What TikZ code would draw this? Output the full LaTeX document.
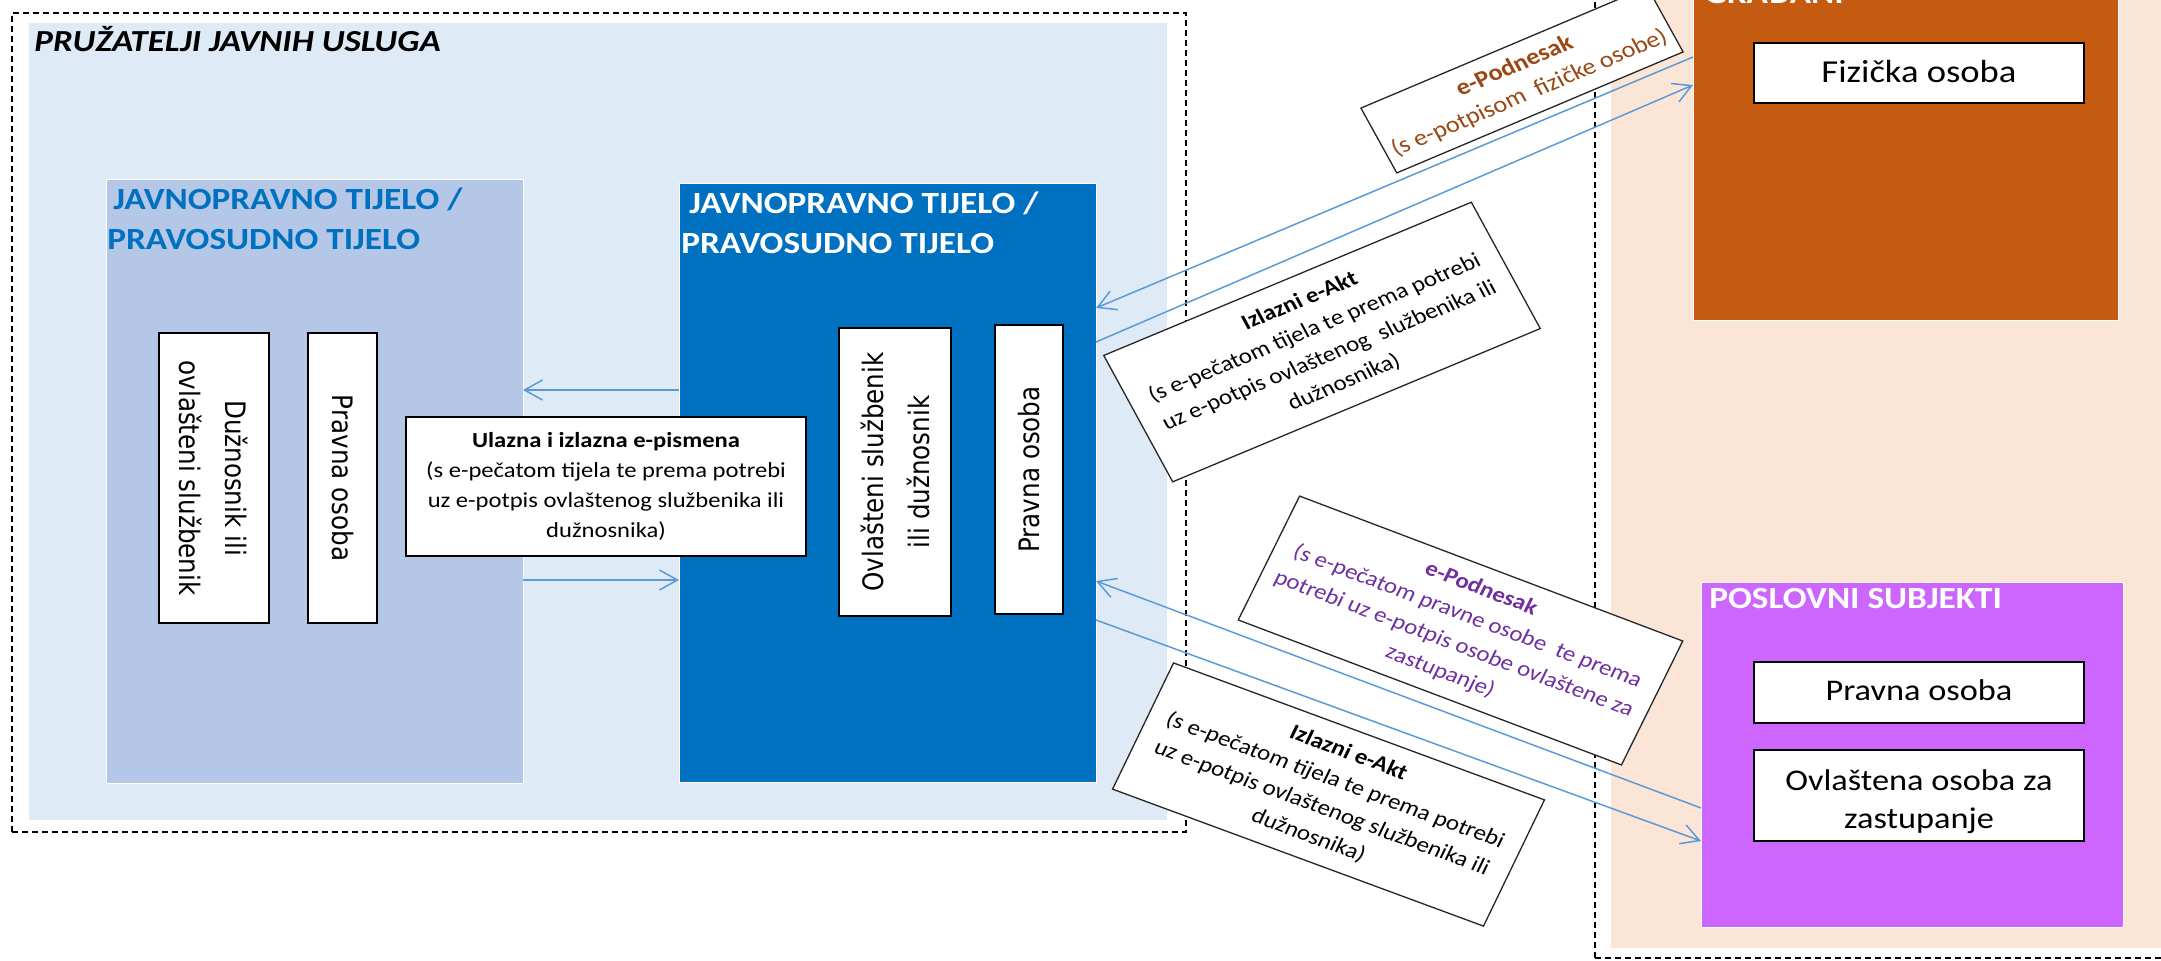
\documentclass[tikz,border=0pt]{standalone}
\usepackage{fontspec}
\setmainfont{Carlito}[FakeStretch=1.144]
\newfontfamily\plainfont{Carlito}
\newfontfamily\vfont{DejaVu Sans}[FakeStretch=0.874]
\usetikzlibrary{arrows.meta,fit}
\definecolor{bgblue}{HTML}{DEEBF7}
\definecolor{midblue}{HTML}{B4C7E7}
\definecolor{darkblue}{HTML}{0070C0}
\definecolor{peach}{HTML}{FBE5D6}
\definecolor{rust}{HTML}{C55A11}
\definecolor{violet}{HTML}{CC66FF}
\definecolor{arrowblue}{HTML}{5B9BD5}
\definecolor{brownt}{HTML}{9A4713}
\definecolor{purplet}{HTML}{7030A0}
\begin{document}
\begin{tikzpicture}[x=0.5pt,y=-0.5pt,
  area/.style={inner sep=0pt, outer sep=0pt},
  dashbox/.style={draw=black, dash pattern=on 3pt off 2pt, line width=0.6pt},
  wbox/.style={draw=black, fill=white, line width=0.75pt, inner sep=0pt, align=center},
  tilt/.style={draw=black!85, fill=white, line width=0.65pt, inner sep=0pt, align=center, transform shape, font=\plainfont\fontsize{10.9pt}{15pt}\selectfont},
  conn/.style={draw=arrowblue, line width=0.75pt, -{Straight Barb[length=9pt,width=10pt]}},
  vlabel/.style={wbox, font=\vfont\fontsize{14.07pt}{23pt}\selectfont},
  rlabel/.style={draw=black, fill=white, line width=0.75pt, inner sep=0pt, font=\fontsize{15pt}{19pt}\selectfont},
  title/.style={inner sep=0pt, font=\bfseries\fontsize{15.4pt}{20pt}\selectfont, align=left}
]
\useasboundingbox (0,0) rectangle (2161,960);

% ---------- left: service providers ----------
\node[area, fit={(12,13) (1186,832)}, dashbox] (ldash) {};
\node[area, fit={(29,23) (1167,820)}, fill=bgblue] (pjus) {};
\node[inner sep=0pt, anchor=base west, font=\bfseries\itshape\fontsize{15.3pt}{20pt}\selectfont] (pjust) at (34,51) {PRUŽATELJI JAVNIH USLUGA};
\node[area, fit={(106,179) (523,783)}, fill=midblue, draw=white, line width=0.5pt] (lbox) {};
\node[area, fit={(679,183) (1096,782)}, fill=darkblue, draw=white, line width=0.5pt] (dbox) {};
\node[title, text=darkblue, anchor=north west] (lt) at (107,187) {\hspace*{3pt}JAVNOPRAVNO TIJELO /\\PRAVOSUDNO TIJELO};
\node[title, text=white, anchor=north west] (dt) at (681,191) {\hspace*{4pt}JAVNOPRAVNO TIJELO /\\PRAVOSUDNO TIJELO};

\node[vlabel, rotate=-90, minimum width=145pt, minimum height=55pt] (ld) at (214,478) {Dužnosnik ili\\ovlašteni službenik};
\node[vlabel, rotate=-90, minimum width=145pt, minimum height=34.5pt] (lp) at (342.5,478) {Pravna osoba};
\node[vlabel, rotate=90, minimum width=144pt, minimum height=56pt] (dov) at (895,472) {Ovlašteni službenik\\ili dužnosnik};
\node[vlabel, rotate=90, minimum width=144.5pt, minimum height=34pt] (dp) at (1029,469.5) {Pravna osoba};

\node[wbox, minimum width=200pt, minimum height=69.5pt, font=\fontsize{10.75pt}{15pt}\selectfont] (ul) at (606,486.5) {\textbf{Ulazna i izlazna e-pismena}\\(s e-pečatom tijela te prema potrebi\\uz e-potpis ovlaštenog službenika ili\\dužnosnika)};

% ---------- right: citizens and businesses ----------
\node[area, fit={(1611,-30) (2200,948)}, fill=peach] (peachbg) {};
\node[area, fit={(1595,-30) (2200,958)}, dashbox] (rdash) {};
\node[area, fit={(1693,-30) (2118,320)}, fill=rust, draw=white, line width=0.5pt] (grad) {};
\node[area, fit={(1701,582) (2123,927)}, fill=violet, draw=white, line width=0.5pt] (posl) {};
\node[title, text=white, anchor=base west] (gradt) at (1704,3) {GRAĐANI};
\node[title, text=white, anchor=base west] (poslt) at (1709,608) {POSLOVNI SUBJEKTI};
\node[rlabel, minimum width=165pt, minimum height=30pt, text height=12pt, text depth=3pt, font=\fontsize{16pt}{19pt}\selectfont] (fiz) at (1919,73) {Fizička osoba};
\node[rlabel, minimum width=165pt, minimum height=30.5pt, text height=10.5pt, text depth=3pt] (pj) at (1919,692.5) {Pravna osoba};
\node[rlabel, minimum width=165pt, minimum height=45.5pt, text height=10pt, text depth=15.5pt] (ovl) at (1919,795.5) {\begin{tabular}[t]{@{}c@{}}Ovlaštena osoba za\\zastupanje\end{tabular}};

% ---------- connectors ----------
\coordinate (h57) at (0,57);
\coordinate (h85) at (0,85);
\coordinate (h308) at (0,308);
\coordinate (h342) at (0,342);
\coordinate (h581) at (0,581);
\coordinate (h620) at (0,620);
\coordinate (h808) at (0,808);
\coordinate (h841) at (0,841);
\coordinate (h390) at (0,390);
\coordinate (h580) at (0,580);
\draw[conn] (grad.west |- h57) -- (dbox.east |- h308);
\draw[conn] (dbox.east |- h342) -- (grad.west |- h85);
\draw[conn] (posl.west |- h808) -- (dbox.east |- h581);
\draw[conn] (dbox.east |- h620) -- (posl.west |- h841);
\draw[conn] (dbox.west |- h390) -- (lbox.east |- h390);
\draw[conn] (lbox.east |- h580) -- (dbox.west |- h580);

% ---------- tilted labels ----------
\begin{scope}[shift={(1522,80)}, xscale=1.144]
\node[tilt, rotate=25.8, minimum width=139pt, minimum height=36pt, text=brownt, font=\plainfont\fontsize{11.5pt}{15pt}\selectfont] (epod1) at (0,0) {\textbf{e-Podnesak}\\(s e-potpisom~ fizičke osobe)};
\end{scope}
\begin{scope}[shift={(1322,342)}, xscale=1.144]
\node[tilt, rotate=25.5, minimum width=178pt, minimum height=70pt] (izl1) at (0,0) {\textbf{Izlazni e-Akt}\\(s e-pečatom tijela te prema potrebi\\uz e-potpis ovlaštenog~ službenika ili\\dužnosnika)};
\end{scope}
\begin{scope}[shift={(1460.5,630.5)}, xscale=1.144]
\node[tilt, rotate=-23.4, minimum width=182.5pt, minimum height=67.5pt, text=purplet] (epod2) at (0,0) {\textbf{e-Podnesak}\\(s e-pečatom pravne osobe~ te prema\\potrebi uz e-potpis osobe ovlaštene za\\zastupanje)};
\end{scope}
\begin{scope}[shift={(1328.5,794.5)}, xscale=1.144]
\node[tilt, rotate=-22.9, minimum width=176pt, minimum height=68.5pt] (izl2) at (0,0) {\textbf{Izlazni e-Akt}\\(s e-pečatom tijela te prema potrebi\\uz e-potpis ovlaštenog službenika ili\\dužnosnika)};
\end{scope}
\end{tikzpicture}
\end{document}
